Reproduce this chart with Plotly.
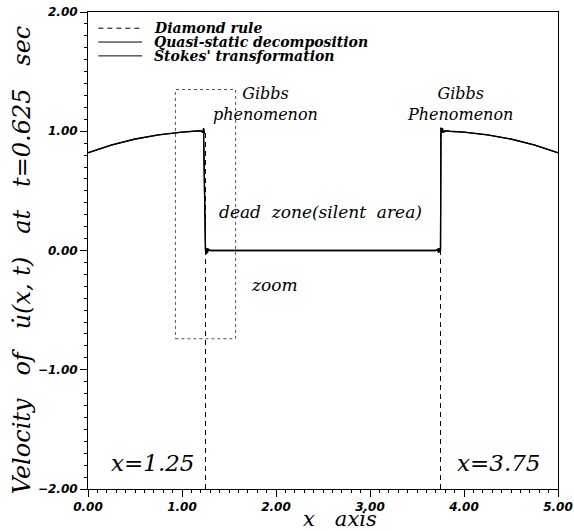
import plotly.graph_objects as go

# ---- data ----
x_left = [0.00, 0.25, 0.50, 0.75, 1.00, 1.15, 1.20, 1.22, 1.23, 1.235, 1.24, 1.23]
u_left = [0.82, 0.885, 0.935, 0.970, 0.993, 1.000, 1.005, 0.990, 1.025, 0.985, 1.000, 0.97]
x_mid = [1.25, 1.26, 1.265, 1.27, 1.28, 1.30, 2.50, 3.70, 3.72, 3.73, 3.735, 3.74, 3.75]
u_mid = [0.00, -0.03, 0.02, -0.02, 0.01, 0.00, 0.00, 0.00, 0.01, -0.02, 0.02, -0.01, 0.00]
x_right = [3.75, 3.755, 3.76, 3.77, 3.78, 3.80, 3.85, 4.00, 4.25, 4.50, 4.75, 5.00]
u_right = [1.000, 1.030, 0.985, 1.025, 0.990, 1.005, 1.000, 0.993, 0.970, 0.935, 0.885, 0.82]

x_qs = x_left + x_mid + x_right
u_qs = u_left + u_mid + u_right
# Stokes' transformation practically coincides with the quasi-static result
u_st = [v * 0.999 for v in u_qs]

# Diamond rule: dashed front lines at x=1.25 and x=3.75
x_dr = [1.25, 1.25, None, 3.75, 3.75]
u_dr = [-2.0, 1.0, None, -2.0, 1.0]

zoom_box = dict(x0=0.93, x1=1.57, y0=-0.74, y1=1.35)

y_ticks = [-2.0, -1.0, 0.0, 1.0, 2.0]
x_ticks = [0.0, 1.0, 2.0, 3.0, 4.0, 5.0]

legend_names = ["Diamond rule", "Quasi-static decomposition", "Stokes' transformation"]
legend_dash = ["5px,4px", "solid", "solid"]

x_title = "x   axis"
y_title = "Velocity   of   u\u0307(x, t)   at   t=0.625   sec"

serif = "DejaVu Serif"
tickfont = dict(family="DejaVu Sans", size=12, color="black", style="italic", weight="bold")

fig = go.Figure()
fig.add_trace(go.Scatter(x=x_dr, y=u_dr, mode="lines", name=legend_names[0],
                         line=dict(color="black", width=1, dash=legend_dash[0])))
fig.add_trace(go.Scatter(x=x_qs, y=u_qs, mode="lines", name=legend_names[1],
                         line=dict(color="black", width=1.3)))
fig.add_trace(go.Scatter(x=x_qs, y=u_st, mode="lines", name=legend_names[2],
                         line=dict(color="black", width=1.3)))

fig.add_shape(type="rect", xref="x", yref="y", **zoom_box,
              line=dict(color="#555", width=1, dash="dot"))

# hand-drawn style legend (tight row spacing as in the reference)
leg_y = [0.966, 0.937, 0.908]
for name, dash, yy in zip(legend_names, legend_dash, leg_y):
    fig.add_shape(type="line", xref="paper", yref="paper", x0=0.022, x1=0.115, y0=yy, y1=yy,
                  line=dict(color="black", width=1, dash=dash))
    fig.add_annotation(xref="paper", yref="paper", x=0.136, y=yy, xanchor="left", yanchor="middle",
                       text=name, showarrow=False,
                       font=dict(family=serif, size=14, color="black", style="italic", weight="bold"))

ann_font = dict(family=serif, size=16, color="black", style="italic")
mid_font = dict(family=serif, size=17, color="black", style="italic")
big_font = dict(family=serif, size=23, color="black", style="italic")
annots = [
    ("Gibbs<br>phenomenon", 1.89, 1.23, ann_font),
    ("Gibbs<br>Phenomenon", 3.96, 1.23, ann_font),
    ("dead  zone(silent  area)", 2.47, 0.32, mid_font),
    ("zoom", 1.98, -0.29, mid_font),
    ("x=1.25", 0.69, -1.78, big_font),
    ("x=3.75", 4.37, -1.78, big_font),
]
for t, ax, ay, f in annots:
    fig.add_annotation(x=ax, y=ay, text=t, showarrow=False, font=f, xref="x", yref="y",
                       xanchor="center", yanchor="middle")

# axis titles placed as paper annotations
fig.add_annotation(xref="paper", yref="paper", x=0.536, y=-0.063, text=x_title, showarrow=False,
                   xanchor="center", yanchor="middle",
                   font=dict(family=serif, size=21, color="black", style="italic"))
fig.add_annotation(xref="paper", yref="paper", x=-0.14, y=0.48, text=y_title, showarrow=False,
                   xanchor="center", yanchor="middle", textangle=-90,
                   font=dict(family=serif, size=24, color="black", style="italic"))

axis_common = dict(showline=True, linecolor="black", linewidth=1, mirror=True,
                   ticks="outside", ticklen=7, tickcolor="black", showgrid=False,
                   zeroline=False, tickformat=".2f", tickfont=tickfont, automargin=False)

fig.update_xaxes(range=[0, 5], tickvals=x_ticks, **axis_common,
                 minor=dict(dtick=0.1, ticks="outside", ticklen=3, tickcolor="black"))
fig.update_yaxes(range=[-2, 2], tickvals=y_ticks, **axis_common,
                 minor=dict(dtick=0.1, ticks="outside", ticklen=3, tickcolor="black"))

fig.update_layout(
    width=574, height=531,
    margin=dict(l=88, r=16, t=12, b=42),
    paper_bgcolor="white", plot_bgcolor="white",
    showlegend=False,
)

fig.write_html("out.html", config={"displayModeBar": False},
               post_script="document.body.style.margin='0';document.body.style.padding='0';")
